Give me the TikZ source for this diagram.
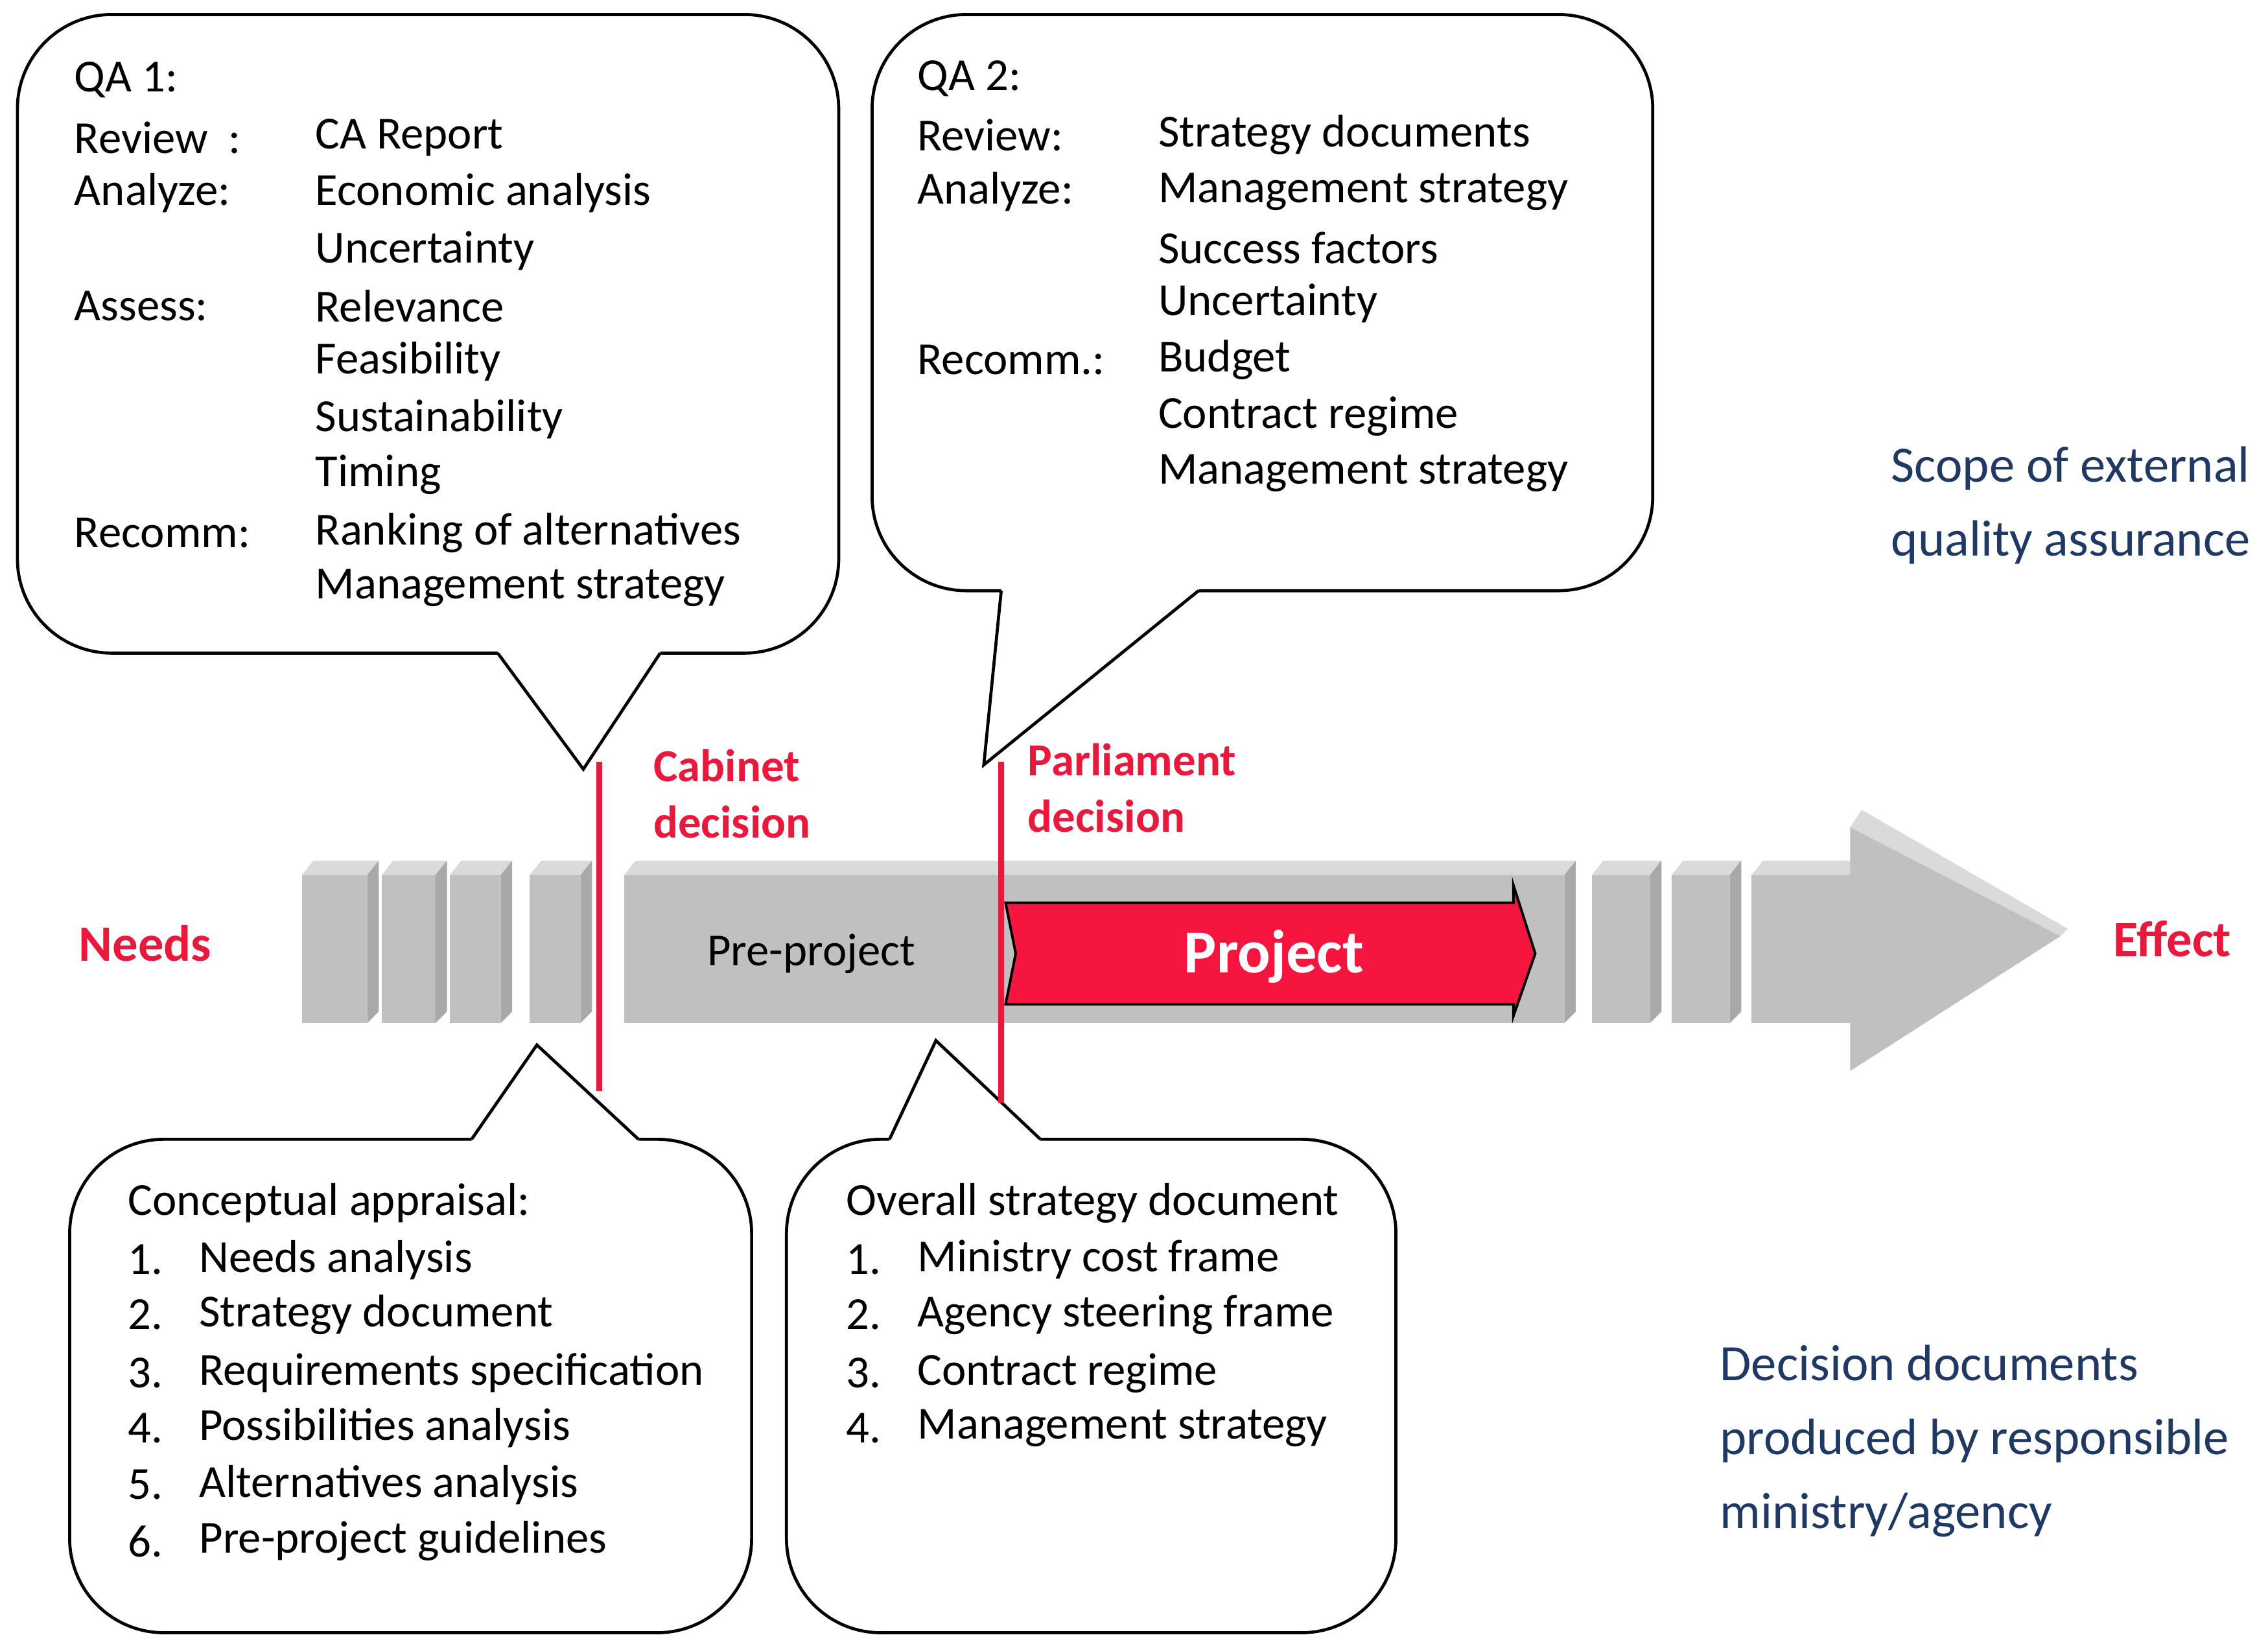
\documentclass[tikz,border=0pt]{standalone}
\usepackage{fontspec}
\setmainfont{Carlito}
\definecolor{decred}{HTML}{E8193C}
\definecolor{projred}{HTML}{F5153F}
\definecolor{navy}{HTML}{1F3864}
\definecolor{front}{HTML}{C0C0C0}
\definecolor{topface}{HTML}{DADADA}
\definecolor{sideface}{HTML}{A8A8A8}
\newcommand{\greyblock}[2]{%
  \fill[front] (#1,603) rectangle (#2,705);
  \fill[topface] (#1,603) -- (#1+8,593) -- (#2+8,593) -- (#2,603) -- cycle;
  \fill[sideface] (#2,603) -- (#2+8,593) -- (#2+8,697) -- (#2,705) -- cycle;}
\begin{document}
\begin{tikzpicture}[x=0.02cm,y=-0.02cm]
  \tikzstyle{txt} = [anchor=west, inner sep=0pt, font=\fontsize{18}{22}\selectfont]
  \tikzstyle{box} = [draw=black, line width=1.2pt, fill=white, rounded corners=1.3cm]
  \tikzstyle{tip} = [draw=black, line width=1.2pt]
  \tikzstyle{redtxt} = [txt, text=decred, font=\fontsize{18}{22}\selectfont\bfseries]
  \tikzstyle{bluetxt} = [txt, text=navy, font=\fontsize{20}{24}\selectfont]
  \tikzstyle{decision} = [decred, line width=2.4pt]
  \useasboundingbox (0,0) rectangle (1563,1134);

  % big grey arrow
  \foreach \a/\b in {208/253, 263/300, 310/345, 365/400, 1097/1137, 1152/1192, 1207/1275}
    {\greyblock{\a}{\b}}
  \greyblock{430}{1078}
  \fill[topface] (1275,570) -- (1283,558) -- (1425,640) -- (1420,645) -- cycle;
  \fill[front] (1275,570) -- (1420,645) -- (1275,738) -- cycle;

  % project arrow
  \draw[fill=projred, line width=1pt] (693,622) -- (1043,622) -- (1043,610) -- (1058,657)
    -- (1043,700) -- (1043,692) -- (693,692) -- (700,657) -- cycle;
  \node (project) at (878,659) {\fontsize{24}{28}\selectfont\bfseries\color{white}Project};
  \node[txt] (preproject) at (487,657) {Pre-project};

  % callouts above
  \draw[box] (12,10) rectangle (578,450);
  \fill[white] (343,447) -- (343,450) -- (402,530) -- (455,450) -- (455,447) -- cycle;
  \draw[tip] (343,450) -- (402,530) -- (455,450);
  \draw[box] (601,10) rectangle (1139,407);
  \fill[white] (690,404) -- (690,407) -- (678,527) -- (826,407) -- (826,404) -- cycle;
  \draw[tip] (690,407) -- (678,527) -- (826,407);

  % callouts below
  \draw[box] (48,785) rectangle (518,1125);
  \fill[white] (325,788) -- (325,785) -- (370,720) -- (440,785) -- (440,788) -- cycle;
  \draw[tip] (325,785) -- (370,720) -- (440,785);
  \draw[box] (542,785) rectangle (962,1125);
  \fill[white] (613,788) -- (613,785) -- (645,717) -- (717,785) -- (717,788) -- cycle;
  \draw[tip] (613,785) -- (645,717) -- (717,785);

  % decision lines
  \draw[decision] (413,525) -- (413,752);
  \draw[decision] (690,525) -- (690,760);

  % QA 1
  \node[txt] (qa1) at (51,55) {QA 1:};
  \foreach \y/\lab/\val in {95/{Review\ \ :}/CA Report/documents, 133/Analyze:/Economic analysis,
      173//Uncertainty, 211/Assess:/Relevance, 249//Feasibility, 289//Sustainability,
      327//Timing, 367/Recomm:/Ranking of alternatives, 405//Management strategy}
    {\node[txt] at (51,\y) {\lab};
     \node[txt] at (217,\y) {\val};}

  % QA 2
  \node[txt] (qa2) at (632,54) {QA 2:};
  \foreach \y/\lab/\val in {93/Review:/Strategy documents, 132/Analyze:/Management strategy,
      171//Success factors, 209//Uncertainty, 248/Recomm.:/Budget,
      287//Contract regime, 326//Management strategy}
    {\node[txt] at (632,\y) {\lab};
     \node[txt] at (798,\y) {\val};}

  % conceptual appraisal
  \node[txt] (ca) at (88,829) {Conceptual appraisal:};
  \foreach \y/\n/\val in {868/1/Needs analysis, 906/2/Strategy document,
      946/3/Requirements specification, 984/4/Possibilities analysis,
      1023/5/Alternatives analysis, 1062/6/Pre-project guidelines}
    {\node[txt] at (88,\y) {\n.};
     \node[txt] at (137,\y) {\val};}

  % overall strategy document
  \node[txt] (osd) at (583,829) {Overall strategy document};
  \foreach \y/\n/\val in {868/1/Ministry cost frame, 906/2/Agency steering frame,
      946/3/Contract regime, 984/4/Management strategy}
    {\node[txt] at (583,\y) {\n.};
     \node[txt] at (632,\y) {\val};}

  % labels
  \node[redtxt, font=\fontsize{20}{24}\selectfont\bfseries] (needs) at (54,650) {Needs};
  \node[redtxt, font=\fontsize{20}{24}\selectfont\bfseries] (effect) at (1456,647) {Effect};
  \node[redtxt, align=left] (cabinet) at (450,547) {Cabinet\\decision};
  \node[redtxt, align=left] (parliament) at (708,543) {Parliament\\decision};
  \node[bluetxt, align=left, font=\fontsize{20}{29}\selectfont] (scope) at (1303,348) {Scope of external\\quality assurance};
  \node[bluetxt, align=left, font=\fontsize{20}{29}\selectfont] (decdocs) at (1185,993) {Decision documents\\produced by responsible\\ministry/agency};
\end{tikzpicture}
\end{document}
